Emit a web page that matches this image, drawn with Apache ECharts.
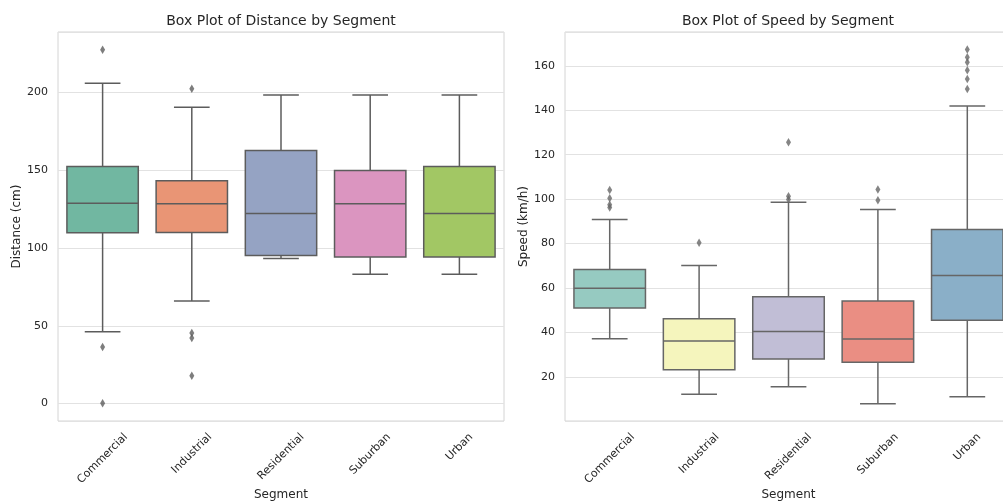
<!DOCTYPE html>
<html>
<head>
<meta charset="utf-8">
<script src="https://cdn.jsdelivr.net/npm/echarts@6/dist/echarts.min.js"></script>
<style>
  html, body { margin: 0; padding: 0; background: #ffffff; }
  #chart { width: 1003px; height: 502px; }
</style>
</head>
<body>
<div id="chart"></div>
<script>
// Segments shared by both panels
const segments = ['Commercial', 'Industrial', 'Residential', 'Suburban', 'Urban'];

// Distance (cm): [lower whisker, Q1, median, Q3, upper whisker] per segment
const distanceStats = [
  [46.2, 109.8, 128.8, 152.4, 205.8],
  [66.0, 110.0, 128.4, 143.2, 190.4],
  [93.2, 95.1, 122.2, 162.6, 198.3],
  [83.1, 94.2, 128.4, 149.8, 198.3],
  [83.1, 94.2, 122.2, 152.4, 198.3]
];
const distanceOutliers = [
  [227.4, 36.3, 0.2],
  [202.3, 45.3, 42.1, 17.9],
  [],
  [],
  []
];

// Speed (km/h): [lower whisker, Q1, median, Q3, upper whisker] per segment
const speedStats = [
  [37.2, 51.0, 59.9, 68.4, 90.8],
  [12.2, 23.3, 36.2, 46.2, 70.1],
  [15.6, 28.1, 40.5, 56.1, 98.6],
  [8.0, 26.6, 37.1, 54.2, 95.3],
  [11.1, 45.5, 65.7, 86.4, 141.9]
];
const speedOutliers = [
  [104.1, 100.4, 97.5, 96.3],
  [80.4],
  [125.6, 101.3, 99.8],
  [104.4, 99.5],
  [167.3, 163.8, 161.6, 158.0, 154.1, 149.6]
];

const FONT = 'DejaVu Sans';
const TEXT = '#262626';
const distancePalette = ['#71b7a1', '#e99575', '#95a3c3', '#db95c0', '#a2c764'];
const speedPalette = ['#96cac1', '#f5f5bd', '#c1bed6', '#ea8e83', '#8aafc8'];

// Rotated category labels: keep the top of each rotated label box on one line
const measureCtx = document.createElement('canvas').getContext('2d');
measureCtx.font = '11px "' + FONT + '"';
const labelWidths = segments.map(s => measureCtx.measureText(s).width);
const minLabelW = Math.min.apply(null, labelWidths);
const labelRich = {};
segments.forEach((s, i) => {
  const d = (labelWidths[i] - minLabelW) / (2 * Math.SQRT2); // downward shift on screen
  const a = d / Math.SQRT2;
  labelRich['s' + i] = {
    fontFamily: FONT, fontSize: 11, color: TEXT,
    padding: [2 * a, 2 * a, 0, 0]
  };
});

function boxRenderer(palette, edge) {
  return function (params, api) {
    const idx = api.value(0);
    const pMin = api.coord([idx, api.value(1)]);
    const pQ1 = api.coord([idx, api.value(2)]);
    const pMed = api.coord([idx, api.value(3)]);
    const pQ3 = api.coord([idx, api.value(4)]);
    const pMax = api.coord([idx, api.value(5)]);
    const band = api.size([1, 0])[0];
    const bw = band * 0.8;
    const cw = bw / 2;
    const cx = pMed[0];
    const line = { stroke: edge, lineWidth: 1.5 };
    return {
      type: 'group',
      children: [
        { type: 'line', shape: { x1: cx, y1: pQ3[1], x2: cx, y2: pMax[1] }, style: line },
        { type: 'line', shape: { x1: cx, y1: pQ1[1], x2: cx, y2: pMin[1] }, style: line },
        { type: 'line', shape: { x1: cx - cw / 2, y1: pMax[1], x2: cx + cw / 2, y2: pMax[1] }, style: line },
        { type: 'line', shape: { x1: cx - cw / 2, y1: pMin[1], x2: cx + cw / 2, y2: pMin[1] }, style: line },
        {
          type: 'rect',
          shape: { x: cx - bw / 2, y: pQ3[1], width: bw, height: pQ1[1] - pQ3[1] },
          style: { fill: palette[idx], stroke: edge, lineWidth: 1.5 }
        },
        { type: 'line', shape: { x1: cx - bw / 2, y1: pMed[1], x2: cx + bw / 2, y2: pMed[1] }, style: line }
      ]
    };
  };
}

function boxData(stats) {
  return stats.map((s, i) => [i].concat(s));
}
function outlierData(outs) {
  const out = [];
  outs.forEach((list, i) => list.forEach(v => out.push([i, v])));
  return out;
}

function xAxisFor(gridIndex) {
  return {
    type: 'category',
    gridIndex: gridIndex,
    data: segments,
    boundaryGap: true,
    axisLine: { show: false },
    axisTick: { show: false },
    splitLine: { show: false },
    axisLabel: {
      rotate: 45,
      margin: 26,
      align: 'center',
      verticalAlign: 'middle',
      interval: 0,
      formatter: (v) => '{s' + segments.indexOf(v) + '|' + v + '}',
      rich: labelRich
    },
    name: 'Segment',
    nameLocation: 'middle',
    nameGap: 68,
    nameMoveOverlap: false,
    nameTextStyle: { fontFamily: FONT, fontSize: 12, color: TEXT }
  };
}

function yAxisFor(gridIndex, name, min, max, splitNumber) {
  return {
    type: 'value',
    gridIndex: gridIndex,
    min: min,
    max: max,
    splitNumber: splitNumber,
    axisLine: { show: false },
    axisTick: { show: false },
    axisLabel: {
      fontFamily: FONT, fontSize: 11, color: TEXT, margin: 10,
      showMinLabel: false, showMaxLabel: false
    },
    splitLine: { show: true, lineStyle: { color: '#e2e2e2', width: 1 } },
    name: name,
    nameLocation: 'middle',
    nameGap: 35,
    nameTextStyle: { fontFamily: FONT, fontSize: 12, color: TEXT }
  };
}

const chart = echarts.init(document.getElementById('chart'), null, { renderer: 'canvas' });
chart.setOption({
  backgroundColor: '#ffffff',
  animation: false,
  textStyle: { fontFamily: FONT },
  title: [
    {
      text: 'Box Plot of Distance by Segment',
      left: 281, top: 14, textAlign: 'center', padding: 0,
      textStyle: { fontFamily: FONT, fontSize: 14, fontWeight: 'normal', color: TEXT }
    },
    {
      text: 'Box Plot of Speed by Segment',
      left: 788, top: 14, textAlign: 'center', padding: 0,
      textStyle: { fontFamily: FONT, fontSize: 14, fontWeight: 'normal', color: TEXT }
    }
  ],
  grid: [
    { left: 58, top: 32, width: 446, height: 389, outerBoundsMode: 'none', containLabel: false,
      show: true, borderColor: '#d4d4d4', borderWidth: 1, backgroundColor: 'transparent' },
    { left: 565, top: 32, width: 447, height: 389, outerBoundsMode: 'none', containLabel: false,
      show: true, borderColor: '#d4d4d4', borderWidth: 1, backgroundColor: 'transparent' }
  ],
  xAxis: [xAxisFor(0), xAxisFor(1)],
  yAxis: [
    yAxisFor(0, 'Distance (cm)', -11.2, 238.8, 5),
    yAxisFor(1, 'Speed (km/h)', 0.2, 175.2, 8)
  ],
  series: [
    {
      type: 'custom', xAxisIndex: 0, yAxisIndex: 0,
      renderItem: boxRenderer(distancePalette, '#5c5c5c'),
      encode: { x: 0, y: [1, 2, 3, 4, 5] },
      data: boxData(distanceStats)
    },
    {
      type: 'scatter', xAxisIndex: 0, yAxisIndex: 0,
      symbol: 'diamond', symbolSize: [5, 8.5],
      itemStyle: { color: '#5c5c5c' },
      data: outlierData(distanceOutliers)
    },
    {
      type: 'custom', xAxisIndex: 1, yAxisIndex: 1,
      renderItem: boxRenderer(speedPalette, '#666666'),
      encode: { x: 0, y: [1, 2, 3, 4, 5] },
      data: boxData(speedStats)
    },
    {
      type: 'scatter', xAxisIndex: 1, yAxisIndex: 1,
      symbol: 'diamond', symbolSize: [5, 8.5],
      itemStyle: { color: '#666666' },
      data: outlierData(speedOutliers)
    }
  ]
});
</script>
</body>
</html>
